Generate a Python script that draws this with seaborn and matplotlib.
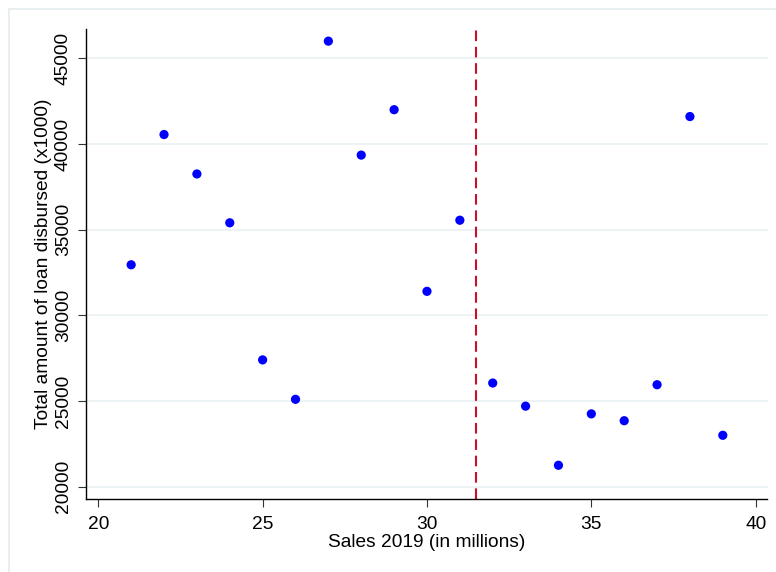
import matplotlib
matplotlib.use("Agg")
import matplotlib.pyplot as plt
from matplotlib.lines import Line2D
import seaborn as sns
import pandas as pd

# Sales in 2019 (millions) and total loan disbursed (x1000)
sales = [21, 22, 23, 24, 25, 26, 27, 28, 29, 30, 31, 32, 33, 34, 35, 36, 37, 38, 39]
loans = [32950, 40550, 38250, 35400, 27400, 25100, 46000, 39350, 42000, 31400,
         35550, 26050, 24700, 21250, 24250, 23850, 25950, 41600, 23000]
cutoff = 31.5
x_ticks = [20, 25, 30, 35, 40]
y_ticks = [20000, 25000, 30000, 35000, 40000, 45000]
x_label = "Sales 2019 (in millions)"
y_label = "Total amount of loan disbursed (x1000)"

df = pd.DataFrame({"sales": sales, "loans": loans})

sns.set_theme(style="white")
plt.rcParams["font.family"] = ["Liberation Sans", "DejaVu Sans"]

W, H = 776, 572
fig = plt.figure(figsize=(W / 100, H / 100), dpi=100)
fig.patch.set_facecolor("white")

left, right, top, bottom = 85.7, 767.5, 29.0, 499.0
ax = fig.add_axes([left / W, 1 - bottom / H, (right - left) / W, (bottom - top) / H])

sns.scatterplot(data=df, x="sales", y="loans", color="#0000FF", s=44,
                edgecolor="none", linewidth=0, ax=ax, zorder=3)
ax.axvline(cutoff, color="#C8102E", lw=1.5, ls=(0, (5.1, 2.75)), zorder=2)

ax.set_xlim(19.617, 40.36)
ax.set_ylim(19282, 46709)
ax.set_xticks(x_ticks)
ax.set_xticklabels([str(t) for t in x_ticks])
ax.set_yticks(y_ticks)
ax.set_yticklabels([str(t) for t in y_ticks], rotation=90, va="center")

ax.yaxis.grid(True, color="#EAF2F3", lw=1.3)
ax.xaxis.grid(False)
ax.set_axisbelow(True)

for s in ["top", "right"]:
    ax.spines[s].set_visible(False)
for s in ["left", "bottom"]:
    ax.spines[s].set_color("black")
    ax.spines[s].set_linewidth(1.0)

ax.tick_params(axis="both", which="major", length=5.5, width=0.8, color="#333333",
               labelsize=13.8, labelcolor="black", pad=6.5, left=True, bottom=True)
ax.tick_params(axis="y", pad=4.5)

ax.set_xlabel(x_label, fontsize=13.8, color="black", labelpad=1)
ax.set_ylabel(y_label, fontsize=13.8, color="black", labelpad=2)

# light outer frame of the graph region
fc = "#E6EEF0"
fig.add_artist(Line2D([8.5 / W, 1], [1 - 8.5 / H, 1 - 8.5 / H], transform=fig.transFigure, color=fc, lw=1.3))
fig.add_artist(Line2D([8.5 / W, 8.5 / W], [0, 1 - 8.5 / H], transform=fig.transFigure, color=fc, lw=1.3))

fig.savefig("out.png", dpi=100, facecolor="white")
